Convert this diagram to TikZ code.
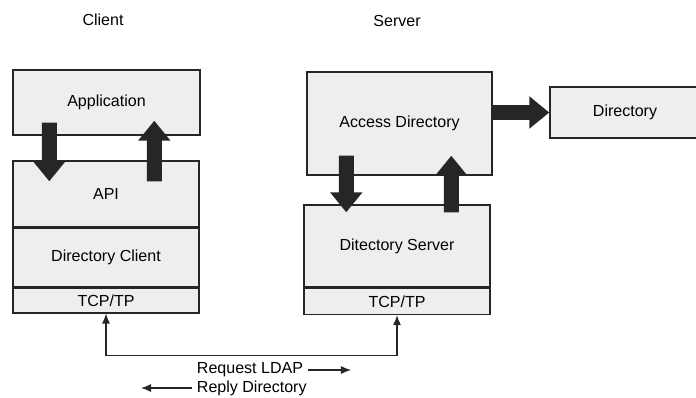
\documentclass[tikz,border=0pt]{standalone}
\usepackage{fontspec}
\setmainfont{Liberation Sans}
\usetikzlibrary{positioning,calc,arrows.meta}
\begin{document}
\begin{tikzpicture}[x=0.025cm, y=-0.025cm,
  every node/.style={font=\fontsize{11.4}{13}\selectfont},
  layer/.style={shape=rectangle, draw=black!85, line width=1pt, fill=gray!13, inner sep=0pt, minimum width=4.65cm},
  fat/.style={line width=0.375cm, draw=black!85, -{Triangle[length=0.5cm, width=0.78cm]}},
  wire/.style={line width=0.8pt, black!85}]
%%%%%%%%%%%%%%%%%%%%%%%%%%%%%%%%%%%%%%%%%%% HELP LINES
%\draw[help lines] (0,0) grid[step=50] (696,397);
\useasboundingbox (0,0) rectangle (696,397);

%%%%%%%%%%%%%%%%%%%%%%%%%%%%%%%%%%%%%%%%%%% titles
\node (client) at (103,20) {Client};
\node (server) at (397,21) {Server};

%%%%% client side
\node[layer, minimum width=4.675cm, minimum height=1.625cm] (app) at (106.5,102.5) {Application};
\node[layer, minimum height=1.65cm] (api) at (106,194) {API};
\node[layer, minimum height=1.45cm, below=0pt of api] (dirclient) {Directory Client};
\node[layer, minimum height=0.625cm, below=0pt of dirclient] (tcpc) {TCP/TP};

%%%%% server side
\node[layer, minimum width=4.625cm, minimum height=2.575cm] (access) at (399.5,123.5) {Access Directory};
\node[layer, minimum width=3.75cm, minimum height=1.275cm] (dir) at (625,112.5) {Directory};
\node[layer, minimum height=2.05cm] (dirserver) at (397,246) {Ditectory Server};
\node[layer, minimum height=0.65cm, below=0pt of dirserver] (tcps) {TCP/TP};

%%%%% block arrows
\draw[fat] ($(app.south west)+(37,-13)$) -- ($(api.north west)+(37,21)$);
\draw[fat] ($(api.north west)+(142,21)$) -- ($(app.south west)+(142,-15)$);
\draw[fat] ($(access.south west)+(40,-20)$) -- ($(dirserver.north west)+(43,8)$);
\draw[fat] ($(dirserver.north west)+(148,8)$) -- ($(access.south west)+(145,-20)$);
\draw[fat] (access.east |- dir.west) -- (dir.west);

%%%%% LDAP link
\draw[wire, {Latex[length=2.5mm, width=2mm]}-{Latex[length=2.5mm, width=2mm]}] (tcpc.south) -- ++(0,42) -| (tcps.south);

\node (req) at (250,370) {Request LDAP};
\node[anchor=west] (rep) at ($(req.west)+(0,18)$) {Reply Directory};
\draw[wire, -{Latex[length=2.5mm, width=2mm]}] (req.east) -- ++(43,0);
\draw[wire, -{Latex[length=2.5mm, width=2mm]}] (rep.west) -- ++(-51,0);
\end{tikzpicture}
\end{document}
